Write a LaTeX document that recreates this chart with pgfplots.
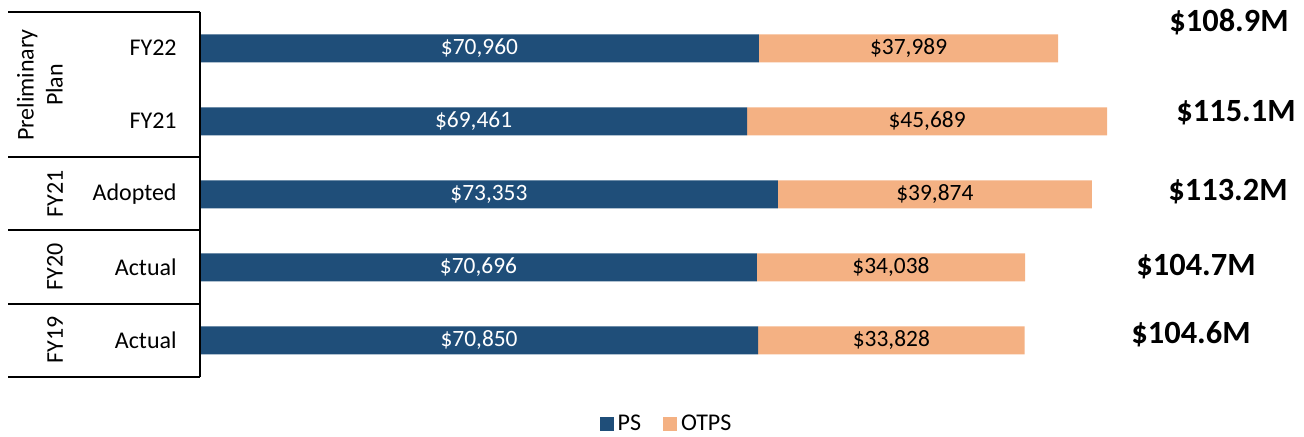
\documentclass[border=0pt]{standalone}
\usepackage{fontspec}
\setmainfont{Carlito}
\usepackage{pgfplots}
\pgfplotsset{compat=1.18}
\definecolor{ps}{HTML}{1F4E79}
\definecolor{otps}{HTML}{F4B183}
\begin{document}
\begin{tikzpicture}[x=0.5pt,y=0.5pt,
  cl/.style={font=\fontsize{12}{14.5}\selectfont, inner sep=0pt},
  tl/.style={font=\fontsize{16.2}{19}\selectfont\bfseries, inner sep=0pt}]
\path[use as bounding box] (0,0) rectangle (1304,437);
\pgfplotsset{base/.style={at={(100pt,30pt)}, anchor=south west, scale only axis,
  width=550pt, height=182.5pt,
  xmin=0, xmax=139645, ymin=-0.5, ymax=4.5,
  axis lines=none, clip=false}}
\begin{axis}[base,
  xbar stacked, bar width=14pt,
  legend style={at={(0.425,-0.128)}, anchor=center, draw=none, fill=none,
    inner sep=1pt, legend columns=2, font=\fontsize{12}{14}\selectfont,
    /tikz/every even column/.append style={column sep=9pt}},
  legend image code/.code={\fill[#1] (0pt,-3.5pt) rectangle (7pt,3.5pt);},
]
\addplot[fill=ps, draw=none]
  coordinates {(70850,0) (70696,1) (73353,2) (69461,3) (70960,4)};
\addplot[fill=otps, draw=none]
  coordinates {(33828,0) (34038,1) (39874,2) (45689,3) (37989,4)};
\legend{PS, OTPS}
\end{axis}
\begin{axis}[base,
  nodes near coords, point meta=explicit symbolic,
  every node near coord/.style={anchor=center, inner sep=0pt, font=\fontsize{11.7}{14}\selectfont}]
\addplot[draw=none, mark=none, every node near coord/.append style={text=white}]
  coordinates {(35425,0)[\$70,850] (35348,1)[\$70,696] (36676.5,2)[\$73,353] (34730.5,3)[\$69,461] (35480,4)[\$70,960]};
\addplot[draw=none, mark=none, every node near coord/.append style={text=black}]
  coordinates {(87764,0)[\$33,828] (87715,1)[\$34,038] (93290,2)[\$39,874] (92305.5,3)[\$45,689] (89954.5,4)[\$37,989]};
\end{axis}
\draw[line width=0.8pt] (200,425) -- (200,60);
\foreach \yy in {425,280,207,133,60} \draw[line width=0.8pt] (8,\yy) -- (200,\yy);
\node[cl, anchor=east] at (177,389) {FY22};
\node[cl, anchor=east] at (177,316) {FY21};
\node[cl, anchor=east] at (177,243) {Adopted};
\node[cl, anchor=east] at (177,170) {Actual};
\node[cl, anchor=east] at (177,97) {Actual};
\node[cl, rotate=90, align=center] at (40,352) {Preliminary\\Plan};
\node[cl, rotate=90] at (55,243) {FY21};
\node[cl, rotate=90] at (55,170) {FY20};
\node[cl, rotate=90] at (55,97) {FY19};
\node[tl] at (1229,415) {\$108.9M};
\node[tl] at (1236,324) {\$115.1M};
\node[tl] at (1228,245) {\$113.2M};
\node[tl] at (1196,170) {\$104.7M};
\node[tl] at (1191,103) {\$104.6M};
\end{tikzpicture}
\end{document}
